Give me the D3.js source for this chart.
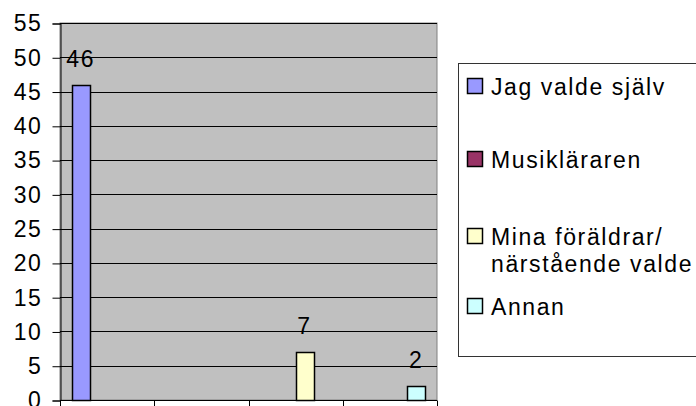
<!DOCTYPE html>
<html>
<head>
<meta charset="utf-8">
<script src="https://cdn.jsdelivr.net/npm/d3@7"></script>
<style>
  body { margin: 0; background: #fff; }
  text { font-family: "Liberation Sans", Arial, sans-serif; letter-spacing: 1.6px; }
</style>
</head>
<body>
<div id="chart"></div>
<script>
// who chose the instrument
const seriesNames = ["Jag valde själv", "Musikläraren", "Mina föräldrar/\nnärstående valde", "Annan"];
const seriesValues = [46, 0, 7, 2];
const seriesColors = ["#9999FF", "#993366", "#FFFFCC", "#CCFFFF"];
const categories = [0, 1, 2, 3];
const yTicks = [0, 5, 10, 15, 20, 25, 30, 35, 40, 45, 50, 55];

const width = 696, height = 406;
const margin = { top: 23, right: 259, bottom: 6, left: 60 };
// legend text baselines (Excel spacing is a bit uneven)
const legendBaselines = [95, 168, 245, 315];

const svg = d3.select("#chart").append("svg")
    .attr("width", width)
    .attr("height", height);

const x0 = d3.scaleBand()
    .domain(categories)
    .range([margin.left, width - margin.right]);

const x1 = d3.scaleBand()
    .domain(seriesNames)
    .range([0, x0.bandwidth()])
    .paddingOuter(0.68);

const y = d3.scaleLinear()
    .domain([0, 55])
    .range([height - margin.bottom, margin.top]);

// plot area
svg.append("rect")
    .attr("x", margin.left)
    .attr("y", margin.top)
    .attr("width", x0.range()[1] - margin.left)
    .attr("height", y(0) - margin.top)
    .attr("fill", "#C0C0C0")
    .attr("stroke", "#808080")
    .attr("stroke-width", 1);

// gridlines
svg.append("g")
    .selectAll("line")
    .data(yTicks.filter(d => d > 0))
    .enter().append("line")
    .attr("x1", margin.left)
    .attr("x2", x0.range()[1])
    .attr("y1", d => Math.round(y(d)) + 0.5)
    .attr("y2", d => Math.round(y(d)) + 0.5)
    .attr("stroke", "#000")
    .attr("stroke-width", 1);

// y axis
const yAxis = svg.append("g")
    .attr("transform", `translate(${margin.left + 0.5},0.5)`)
    .call(d3.axisLeft(y).tickValues(yTicks).tickSize(8).tickPadding(10));
yAxis.selectAll("text").style("font-size", "23px").attr("fill", "#000")
    .attr("font-family", null);
yAxis.select(".domain").attr("stroke", "#000");
yAxis.selectAll(".tick line").attr("stroke", "#000");

// bars, one series per category
svg.append("g")
    .selectAll("rect")
    .data(seriesValues.map((v, i) => ({ name: seriesNames[i], value: v, cat: categories[i], color: seriesColors[i] })))
    .enter().append("rect")
    .attr("x", d => Math.round(x0(d.cat) + x1(d.name)) + 0.5)
    .attr("y", d => Math.round(y(d.value)) + 0.5)
    .attr("width", Math.round(x1.bandwidth()))
    .attr("height", d => Math.round(y(0)) - Math.round(y(d.value)))
    .attr("fill", d => d.color)
    .attr("stroke", "#000")
    .attr("stroke-width", 1.5)
    .style("display", d => d.value > 0 ? null : "none");

// value labels
svg.append("g")
    .selectAll("text")
    .data(seriesValues.map((v, i) => ({ name: seriesNames[i], value: v, cat: categories[i] })).filter(d => d.value > 0))
    .enter().append("text")
    .attr("x", d => x0(d.cat) + x1(d.name) + x1.bandwidth() / 2)
    .attr("y", d => y(d.value) - 18)
    .attr("text-anchor", "middle")
    .style("font-size", "23px")
    .text(d => d.value);

// x axis (no labels)
const xAxis = svg.append("g")
    .attr("transform", `translate(0,${Math.round(y(0)) + 0.5})`);
xAxis.append("line")
    .attr("x1", margin.left)
    .attr("x2", x0.range()[1])
    .attr("stroke", "#000");
xAxis.selectAll(".tk")
    .data(categories.concat([categories.length]))
    .enter().append("line")
    .attr("class", "tk")
    .attr("x1", d => Math.round(margin.left + d * x0.step()) + 0.5)
    .attr("x2", d => Math.round(margin.left + d * x0.step()) + 0.5)
    .attr("y1", 0)
    .attr("y2", 8)
    .attr("stroke", "#000");

// legend
const legend = svg.append("g");
legend.append("rect")
    .attr("x", 458.5)
    .attr("y", 63.5)
    .attr("width", 260)
    .attr("height", 293)
    .attr("fill", "#fff")
    .attr("stroke", "#333");

seriesNames.forEach((name, i) => {
    const lines = name.split("\n");
    const baseline = legendBaselines[i];
    legend.append("rect")
        .attr("x", 467.5)
        .attr("y", baseline - 16.5)
        .attr("width", 15)
        .attr("height", 15)
        .attr("fill", seriesColors[i])
        .attr("stroke", "#000")
        .attr("stroke-width", 1.5);
    const t = legend.append("text")
        .attr("x", 491)
        .attr("y", baseline)
        .style("font-size", "23px");
    lines.forEach((ln, j) => {
        t.append("tspan").attr("x", 491).attr("dy", j === 0 ? 0 : 27).text(ln);
    });
});
</script>
</body>
</html>
